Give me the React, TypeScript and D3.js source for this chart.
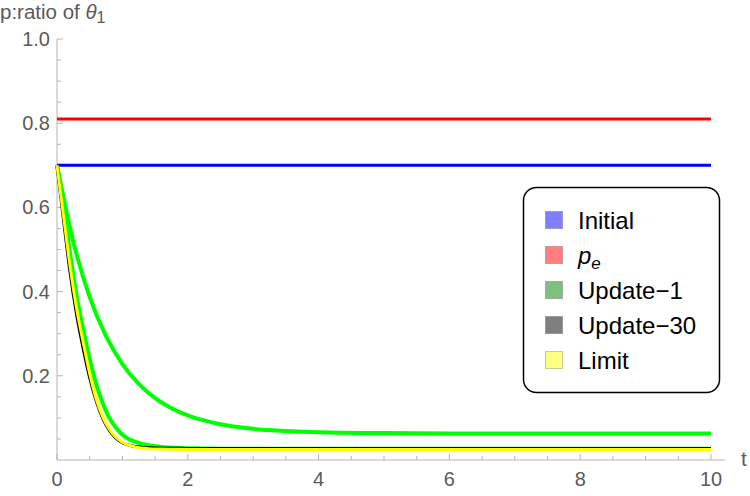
import React from "react";
import * as d3 from "d3";

// ---- data ----
const T_MAX = 10;
const INITIAL = 0.7;
const P_E = 0.81;

const T_SLOW = [0, 0.25, 0.5, 0.75, 1, 1.25, 1.5, 1.75, 2, 2.25, 2.5, 3, 3.5, 4, 5, 6, 8, 10];
const UPDATE1 = [0.7, 0.518, 0.387, 0.294, 0.228, 0.181, 0.147, 0.123, 0.106, 0.094, 0.085, 0.074, 0.069, 0.066, 0.064, 0.063, 0.063, 0.063];

const T_FAST = [0, 0.1, 0.2, 0.3, 0.4, 0.5, 0.6, 0.7, 0.8, 0.9, 1.0, 1.2, 1.4, 1.6, 1.8, 2, 3, 10];
const UPDATE_MID = [0.7, 0.6, 0.49, 0.39, 0.31, 0.24, 0.18, 0.135, 0.1, 0.077, 0.06, 0.043, 0.035, 0.031, 0.029, 0.028, 0.0265, 0.0265];
const UPDATE30 = [0.7, 0.57, 0.445, 0.345, 0.265, 0.195, 0.14, 0.098, 0.07, 0.052, 0.041, 0.032, 0.029, 0.028, 0.0278, 0.0276, 0.0275, 0.0275];
const LIMIT = [0.7, 0.58, 0.46, 0.36, 0.28, 0.205, 0.145, 0.102, 0.073, 0.054, 0.042, 0.031, 0.027, 0.026, 0.0255, 0.025, 0.025, 0.025];

const X_MAJOR = [0, 2, 4, 6, 8, 10];
const Y_MAJOR = [0.2, 0.4, 0.6, 0.8, 1.0];

const LEGEND = [
  { label: "Initial", fill: "#7f7fff", stroke: "#9a9acc" },
  { label: "p_e", fill: "#ff7f7f", stroke: "#cc9a9a" },
  { label: "Update\u22121", fill: "#7fbf7f", stroke: "#9ab09a" },
  { label: "Update\u221230", fill: "#7f7f7f", stroke: "#9a9a9a" },
  { label: "Limit", fill: "#ffff7f", stroke: "#c8c890" },
];

const W = 750;
const H = 496;

export default function App() {
  const x = d3.scaleLinear().domain([0, T_MAX]).range([57, 711]);
  const y = d3.scaleLinear().domain([0, 1]).range([460, 39]);

  const line = d3
    .line<[number, number]>()
    .x((d) => x(d[0]))
    .y((d) => y(d[1]))
    .curve(d3.curveMonotoneX);

  const zip = (ts: number[], vs: number[]) => ts.map((t, i) => [t, vs[i]] as [number, number]);

  const axisColor = "#b4b4b4";
  const labelColor = "#5a5a5a";
  const font = "'Liberation Sans', Arial, sans-serif";

  const xMinor = d3.range(0, T_MAX + 0.001, 0.5);
  const yMinor = d3.range(0.05, 1.0001, 0.05);

  return (
    <svg width={W} height={H} style={{ position: "fixed", left: 0, top: 0, background: "#fff" }} fontFamily={font}>
      <rect width={W} height={H} fill="#fff" />
      {/* axes */}
      <line x1={x(0)} x2={725} y1={y(0)} y2={y(0)} stroke={axisColor} strokeWidth={1} />
      <line x1={x(0)} x2={x(0)} y1={y(0)} y2={y(1)} stroke={axisColor} strokeWidth={1} />
      {xMinor.map((t, i) => {
        const major = Math.abs(t / 2 - Math.round(t / 2)) < 1e-6;
        return (
          <line key={"xt" + i} x1={x(t)} x2={x(t)} y1={y(0)} y2={y(0) - (major ? 6 : 4)} stroke={axisColor} />
        );
      })}
      {yMinor.map((v, i) => {
        const major = Math.abs(v / 0.2 - Math.round(v / 0.2)) < 1e-6;
        return (
          <line key={"yt" + i} x1={x(0)} x2={x(0) + (major ? 6 : 4)} y1={y(v)} y2={y(v)} stroke={axisColor} />
        );
      })}
      {X_MAJOR.map((t) => (
        <text key={"xl" + t} x={x(t)} y={485.5} textAnchor="middle" fontSize={20} fill={labelColor}>
          {t}
        </text>
      ))}
      {Y_MAJOR.map((v) => (
        <text key={"yl" + v} x={50} y={y(v) + 7} textAnchor="end" fontSize={20} fill={labelColor}>
          {v.toFixed(1)}
        </text>
      ))}
      <text x={741} y={466} fontSize={21} fill={labelColor}>t</text>
      <text x={0} y={19} fontSize={20.5} fill={labelColor}>
        p:ratio of <tspan fontStyle="italic">θ</tspan>
        <tspan fontSize={16} dy={4}>1</tspan>
      </text>

      {/* series */}
      <path d={line([[0, INITIAL], [T_MAX, INITIAL]])!} stroke="#0000ff" strokeWidth={3} fill="none" />
      <path d={line([[0, P_E], [T_MAX, P_E]])!} stroke="#ff0000" strokeWidth={3} fill="none" />
      <path d={line(zip(T_SLOW, UPDATE1))!} stroke="#00ff00" strokeWidth={4} fill="none" />
      <path d={line(zip(T_FAST, UPDATE_MID))!} stroke="#00ff00" strokeWidth={4} fill="none" />
      <path d={line(zip(T_FAST, UPDATE30))!} stroke="#000000" strokeWidth={3} fill="none" />
      <path d={line(zip(T_FAST, LIMIT))!} stroke="#ffff00" strokeWidth={3} fill="none" />

      {/* legend */}
      <rect x={523.5} y={187.5} width={196} height={205} rx={13} ry={13} fill="#fff" stroke="#000" strokeWidth={1.5} />
      {LEGEND.map((d, i) => {
        const cy = 220 + i * 35;
        return (
          <g key={d.label}>
            <rect x={545.5} y={cy - 8.5} width={17} height={17} fill={d.fill} stroke={d.stroke} strokeWidth={1} />
            {d.label === "p_e" ? (
              <text x={578} y={cy + 8.5} fontSize={24} fill="#000">
                <tspan fontStyle="italic">p</tspan>
                <tspan fontStyle="italic" fontSize={17} dy={5}>e</tspan>
              </text>
            ) : (
              <text x={578} y={cy + 8.5} fontSize={24} fill="#000">
                {d.label}
              </text>
            )}
          </g>
        );
      })}
    </svg>
  );
}
